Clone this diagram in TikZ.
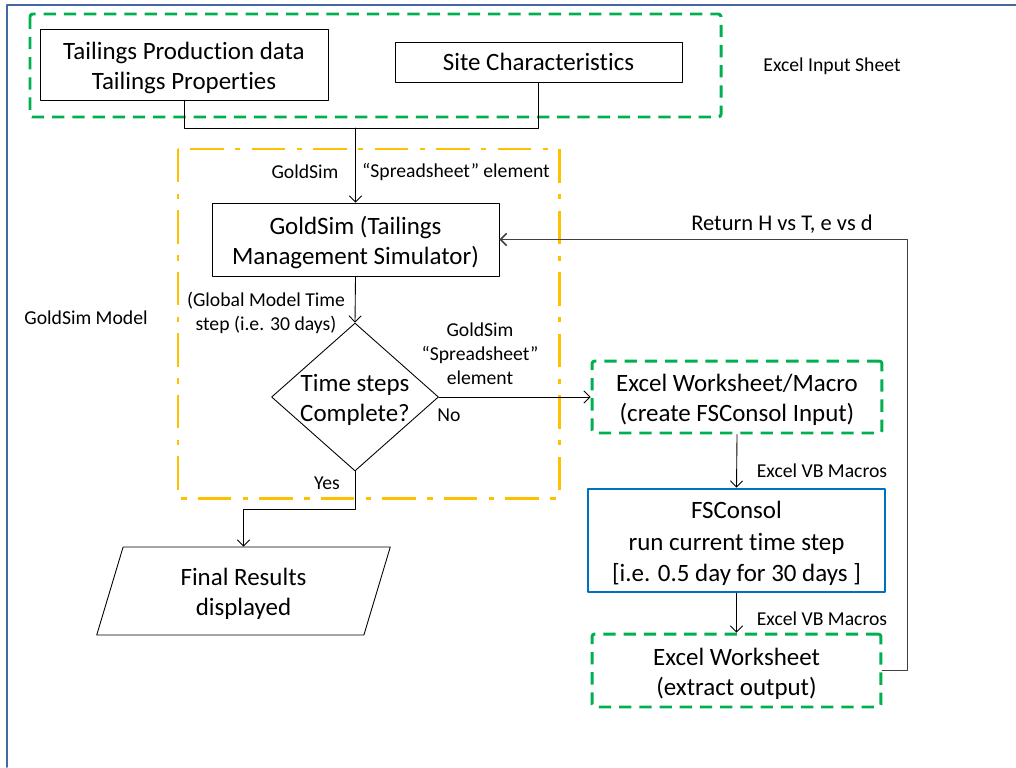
\documentclass[tikz,border=0pt]{standalone}
\usepackage{fontspec}
\setmainfont{Carlito}[Ligatures=NoCommon]
\usetikzlibrary{shapes.geometric, arrows.meta}

\definecolor{excelgreen}{RGB}{0,176,80}
\definecolor{gsimyellow}{RGB}{255,192,0}
\definecolor{fsblue}{RGB}{0,112,192}
\definecolor{framecol}{RGB}{68,104,160}
\definecolor{retgray}{RGB}{64,64,64}

% taller first line, so two-line box texts sit a little lower
\newcommand{\boxstrut}{\rule{0pt}{13.4pt}}

\begin{document}
\begin{tikzpicture}[x=0.02cm, y=-0.02cm, line cap=round, line join=round,
  >={Straight Barb[length=3.5pt, width=7pt]}]

\tikzset{
  box/.style={draw, line width=0.5pt, align=center, inner sep=0pt,
    font=\fontsize{14.2}{17}\selectfont},
  excelbox/.style={box, draw=excelgreen, line width=1.7pt, line cap=butt,
    dash pattern=on 7pt off 4.5pt, rounded corners=1.5pt},
  lbl/.style={align=center, inner sep=0pt, font=\fontsize{11.2}{13.5}\selectfont},
  flow/.style={->, line width=0.5pt},
}

% Page frame (only top and left edges show)
\useasboundingbox (0,0) rectangle (1016,767);
\draw[framecol, line width=1.1pt] (7,767) -- (7,5) -- (1016,5);

% Input sheet group
\draw[excelgreen, line width=1.7pt, line cap=butt, dash pattern=on 7pt off 4.5pt,
  rounded corners=1.5pt] (30,14) rectangle (721,117);
\node[lbl] (lblinput) at (832,66) {Excel Input Sheet};

\node[box, minimum width=5.76cm, minimum height=1.42cm] (tprod) at (184,64.5)
  {\boxstrut Tailings Production data\\Tailings Properties};
\node[box, minimum width=5.74cm, minimum height=0.80cm] (site) at (538.5,62)
  {Site Characteristics};

% GoldSim model group
\draw[gsimyellow, line width=1.7pt, line cap=butt,
  dash pattern=on 19pt off 6.5pt on 3pt off 6.5pt] (178,149) rectangle (559,498);
\node[lbl] (lblmodel) at (86,318) {GoldSim Model};

\node[box, minimum width=5.74cm, minimum height=1.46cm] (gsim) at (355.5,239.5)
  {\boxstrut GoldSim (Tailings\\Management Simulator)};
\node[box, shape=diamond, inner sep=-3pt, aspect=1.13,
  minimum width=3.34cm, minimum height=2.96cm] (check) at (355,397)
  {\boxstrut Time steps\\Complete?};
\node[box, trapezium, trapezium left angle=76.5, trapezium right angle=103.5,
  trapezium stretches=true, minimum width=5.9cm, minimum height=1.76cm]
  (final) at (243.5,591) {\boxstrut Final Results\\displayed};

% FSConsol side
\node[excelbox, minimum width=5.8cm, minimum height=1.44cm] (macro) at (737,397)
  {\boxstrut Excel Worksheet/Macro\\(create FSConsol Input)};
\node[box, draw=fsblue, line width=1.6pt, minimum width=5.94cm, minimum height=2.06cm,
  font=\fontsize{14.2}{18}\selectfont] (fscon) at (736.5,540.5)
  {\boxstrut FSConsol\\run current time step\\{[}i.e. 0.5 day for 30 days ]};
\node[excelbox, minimum width=5.78cm, minimum height=1.46cm] (extract) at (736.5,670.5)
  {\boxstrut Excel Worksheet\\(extract output)};

% Connectors
\coordinate (join) at (355.5,128);
\draw[line width=0.5pt] (tprod.south) |- (join);
\draw[line width=0.5pt] (site.south) |- (join);
\draw[flow] (join) -- (gsim.north);
\draw[flow] (gsim.south) -- (check.north);
\draw[flow] (check.east) -- (macro.west);
\draw[flow] (check.south) -- ++(0,38) -| (final.north);
\draw[flow] (macro.south) -- (fscon.north);
\draw[flow] (fscon.south) -- (extract.north);
\draw[flow, retgray, line width=0.9pt] (extract.east) -- ++(25,0) |- (gsim.east);

% Labels on the connectors
\node[lbl] (lblgs) at (305,172) {GoldSim};
\node[lbl] (lblss) at (456,172) {``Spreadsheet'' element};
\node[lbl] (lblstep) at (266,313) {(Global Model Time\\step (i.e. 30 days)};
\node[lbl, font=\fontsize{11.2}{13.6}\selectfont] (lblss2) at (480,354)
  {GoldSim\\``Spreadsheet''\\element};
\node[lbl] (lblno) at (449,415) {No};
\node[lbl] (lblyes) at (327,483) {Yes};
\node[lbl, font=\fontsize{12.8}{15}\selectfont] (lblret) at (782,224)
  {Return H vs T, e vs d};
\node[lbl] (lblvb1) at (822,471) {Excel VB Macros};
\node[lbl] (lblvb2) at (822,619) {Excel VB Macros};

\end{tikzpicture}
\end{document}
